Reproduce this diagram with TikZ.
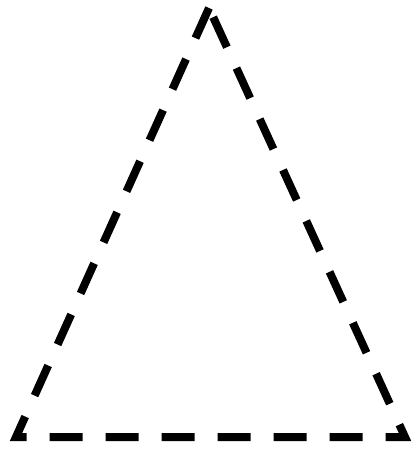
\documentclass[tikz,border=0pt]{standalone}
\begin{document}
\begin{tikzpicture}[x=1pt,y=-1pt,
  edge/.style={line width=8pt,dash pattern=on 33pt off 23pt,line cap=butt,black}]
\useasboundingbox (0,0) rectangle (413,450);
\coordinate (A) at (209,8);
\coordinate (B) at (16,437);
\coordinate (C) at (405,437);
\draw[edge] (A) -- (B) -- (C) -- cycle;
\end{tikzpicture}
\end{document}
